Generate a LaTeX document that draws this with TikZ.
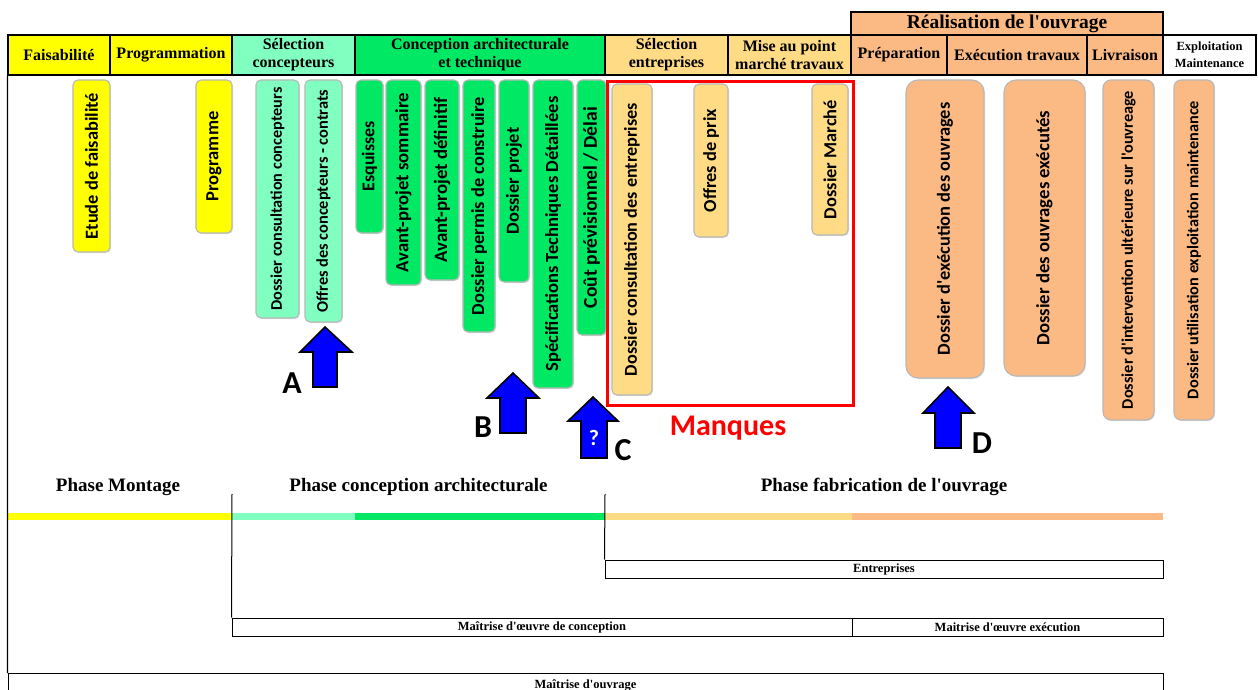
\documentclass[tikz,border=0pt]{standalone}
\usepackage{fontspec}
\setmainfont{Liberation Serif}[Ligatures=TeXOff]
\newfontfamily\calib{Carlito}[Ligatures=TeXOff]
\usetikzlibrary{shadows}
\definecolor{cyel}{HTML}{FFFF00}
\definecolor{clgreen}{HTML}{80FFC0}
\definecolor{cgreen}{HTML}{00E864}
\definecolor{clorange}{HTML}{FFDB85}
\definecolor{corange}{HTML}{FBB984}
\definecolor{cblue}{HTML}{0000FF}
\definecolor{cred}{HTML}{FF0000}
\newlength\vtlen
\newcommand\fitfont[2]{%
  \settowidth\vtlen{\calib\bfseries\fontsize{10}{12}\selectfont #2}%
  \pgfmathsetmacro\vtfs{10*#1/\vtlen}%
  \calib\bfseries\fontsize{\vtfs}{\vtfs}\selectfont #2}
\begin{document}
\begin{tikzpicture}[x=1pt,y=-1pt,
  hcell/.style={draw=black, line width=1.2pt, inner sep=0pt, align=center,
    minimum height=40pt, font=\bfseries\fontsize{16}{18}\selectfont},
  vbox/.style={draw=black!28, line width=1.1pt, rounded corners=5pt, rotate=90,
    inner sep=0pt, drop shadow={opacity=0.25, shadow xshift=1pt, shadow yshift=-1pt}},
  barbox/.style={draw=black, line width=1pt, inner sep=0pt, minimum height=18pt,
    font=\bfseries\fontsize{12.5}{13}\selectfont},
  phasetxt/.style={font=\bfseries\fontsize{19}{20}\selectfont, inner sep=0pt},
  bluearrow/.style={fill=cblue, draw=black, line width=1.6pt, line join=miter},
  lbl/.style={font=\calib\bfseries\fontsize{32}{32}\selectfont, inner sep=0pt}
]
\useasboundingbox[fill=white] (0,0) rectangle (1258,690);

% ---------- header ----------
\node[hcell, fill=cyel, minimum width=102pt] (h1) at (59,55) {Faisabilité};
\node[hcell, fill=cyel, minimum width=122pt] (h2) at (171,55) {Programmation};
\node[hcell, fill=clgreen, minimum width=123pt] (h3) at (293.5,55) {Sélection\\concepteurs};
\node[hcell, fill=cgreen, minimum width=250pt] (h4) at (480,55) {Conception architecturale\\et technique};
\node[hcell, fill=clorange, minimum width=123pt] (h5) at (666.5,55) {Sélection\\entreprises};
\node[hcell, fill=clorange, minimum width=123pt] (h6) at (789.5,55) {Mise au point\\marché travaux};
\node[hcell, fill=corange, minimum width=312pt, minimum height=23pt,
  font=\bfseries\fontsize{19.5}{20}\selectfont] (h0) at (1007,23.5) {Réalisation de l'ouvrage};
\node[hcell, fill=corange, minimum width=96pt] (h7) at (899,55) {Préparation};
\node[hcell, fill=corange, minimum width=140pt] (h8) at (1017,55) {Exécution travaux};
\node[hcell, fill=corange, minimum width=76pt] (h9) at (1125,55) {Livraison};
\node[hcell, fill=white, minimum width=93pt, font=\bfseries\fontsize{12.5}{17}\selectfont] (h10) at (1209.5,55) {Exploitation\\Maintenance};

% ---------- vertical document boxes ----------
\node[vbox, fill=cyel, minimum width=172pt, minimum height=37pt] (faisa) at (91.5,166) {\fitfont{146}{Etude de faisabilité}};
\node[vbox, fill=cyel, minimum width=153pt, minimum height=36pt] (prog) at (214,156.5) {\fitfont{90}{Programme}};
\node[vbox, fill=clgreen, minimum width=238pt, minimum height=43pt] (dcc) at (277.5,199) {\fitfont{223}{Dossier consultation concepteurs}};
\node[vbox, fill=clgreen, minimum width=242pt, minimum height=37pt] (odc) at (323.5,201) {\fitfont{223}{Offres des concepteurs - contrats}};
\node[vbox, fill=cgreen, minimum width=153pt, minimum height=27pt] (esq) at (369.5,156.5) {\fitfont{70}{Esquisses}};
\node[vbox, fill=cgreen, minimum width=205pt, minimum height=35pt] (aps) at (403.5,182.5) {\fitfont{179}{Avant-projet sommaire}};
\node[vbox, fill=cgreen, minimum width=200pt, minimum height=34pt] (apd) at (442,180) {\fitfont{164}{Avant-projet définitif}};
\node[vbox, fill=cgreen, minimum width=252pt, minimum height=32pt] (dpc) at (479,206) {\fitfont{218}{Dossier permis de construire}};
\node[vbox, fill=cgreen, minimum width=202pt, minimum height=30pt] (dp) at (514,181) {\fitfont{107}{Dossier projet}};
\node[vbox, fill=cgreen, minimum width=308pt, minimum height=40pt] (std) at (553,234) {\fitfont{275}{Spécifications Techniques Détaillées}};
\node[vbox, fill=cgreen, minimum width=255pt, minimum height=29pt] (cpd) at (591.5,207.5) {\fitfont{201}{Coût prévisionnel / Délai}};
\node[vbox, fill=clorange, minimum width=311pt, minimum height=40pt] (dce) at (632,239.5) {\fitfont{273}{Dossier consultation des entreprises}};
\node[vbox, fill=clorange, minimum width=153pt, minimum height=34pt] (odp) at (711,160.5) {\fitfont{103}{Offres de prix}};
\node[vbox, fill=clorange, minimum width=151pt, minimum height=36pt] (dm) at (830,159.5) {\fitfont{119}{Dossier Marché}};
\node[vbox, fill=corange, rounded corners=12pt, minimum width=298pt, minimum height=78pt] (deo) at (945,229) {\fitfont{253}{Dossier d'exécution des ouvrages}};
\node[vbox, fill=corange, rounded corners=12pt, minimum width=296pt, minimum height=81pt] (doe) at (1044.5,228) {\fitfont{235}{Dossier des ouvrages exécutés}};
\node[vbox, fill=corange, rounded corners=8pt, minimum width=340pt, minimum height=51pt] (diu) at (1128.5,250) {\fitfont{318}{Dossier d'intervention ultérieure sur l'ouvreage}};
\node[vbox, fill=corange, rounded corners=7pt, minimum width=340pt, minimum height=40pt] (due) at (1194,250) {\fitfont{298}{Dossier utilisation exploitation maintenance}};

% ---------- missing documents frame ----------
\node[draw=cred, line width=3pt, minimum width=246pt, minimum height=323pt, inner sep=0pt] (manq) at (730,243.5) {};
\node[text=cred, inner sep=0pt, font=\calib\bfseries\fontsize{30}{30}\selectfont] (manqlbl) at (728,428) {Manques};

% ---------- blue arrows ----------
\draw[bluearrow] (325,327) -- (352,352) -- (337,352) -- (337,387) -- (313,387) -- (313,352) -- (300,352) -- cycle;
\draw[bluearrow] (513,373) -- (539,398) -- (526,398) -- (526,433) -- (500,433) -- (500,398) -- (487,398) -- cycle;
\draw[bluearrow] (593,397) -- (618,421) -- (607,421) -- (607,458) -- (581,458) -- (581,421) -- (568,421) -- cycle;
\draw[bluearrow] (948,387) -- (974,413) -- (961,413) -- (961,448) -- (935,448) -- (935,413) -- (923,413) -- cycle;
\node[text=white, inner sep=0pt, font=\calib\bfseries\fontsize{22}{22}\selectfont] (qm) at (594,438) {?};
\node[lbl] (la) at (292,383) {A};
\node[lbl] (lb) at (483,427) {B};
\node[lbl] (lc) at (623,450) {C};
\node[lbl] (ld) at (982,443) {D};

% ---------- phases ----------
\node[phasetxt] (p1) at (118,487) {Phase Montage};
\node[phasetxt] (p2) at (418.5,487) {Phase conception architecturale};
\node[phasetxt] (p3) at (884,487) {Phase fabrication de l'ouvrage};
\draw[line width=7pt, cyel] (8,516) -- (232,516);
\draw[line width=7pt, clgreen] (232,516) -- (355,516);
\draw[line width=7pt, cgreen] (355,516) -- (605,516);
\draw[line width=7pt, clorange] (605,516) -- (852,516);
\draw[line width=7pt, corange] (852,516) -- (1163,516);

% ---------- actors ----------
\node[barbox, minimum width=558pt] (ent) at (884,569) {Entreprises};
\node[barbox, minimum width=620pt] (moc) at (542,627) {Maîtrise d'œuvre de conception};
\node[barbox, minimum width=311pt] (moe) at (1007.5,627) {Maitrise d'œuvre exécution};
\node[barbox, minimum width=1155pt, minimum height=36pt, anchor=north] (mo) at (585.5,673) {};
\node[font=\bfseries\fontsize{12.5}{13}\selectfont, inner sep=0pt] (molbl) at (585.5,685) {Maîtrise d'ouvrage};
\coordinate (t1) at (232,494);
\coordinate (t2) at (605,494);
\draw[line width=1pt] (t1) -- (moc.north west);
\draw[line width=1pt] (t2) -- (ent.north west);
\draw[line width=1.2pt] (h1.south west) -- (mo.north west);
\end{tikzpicture}
\end{document}
